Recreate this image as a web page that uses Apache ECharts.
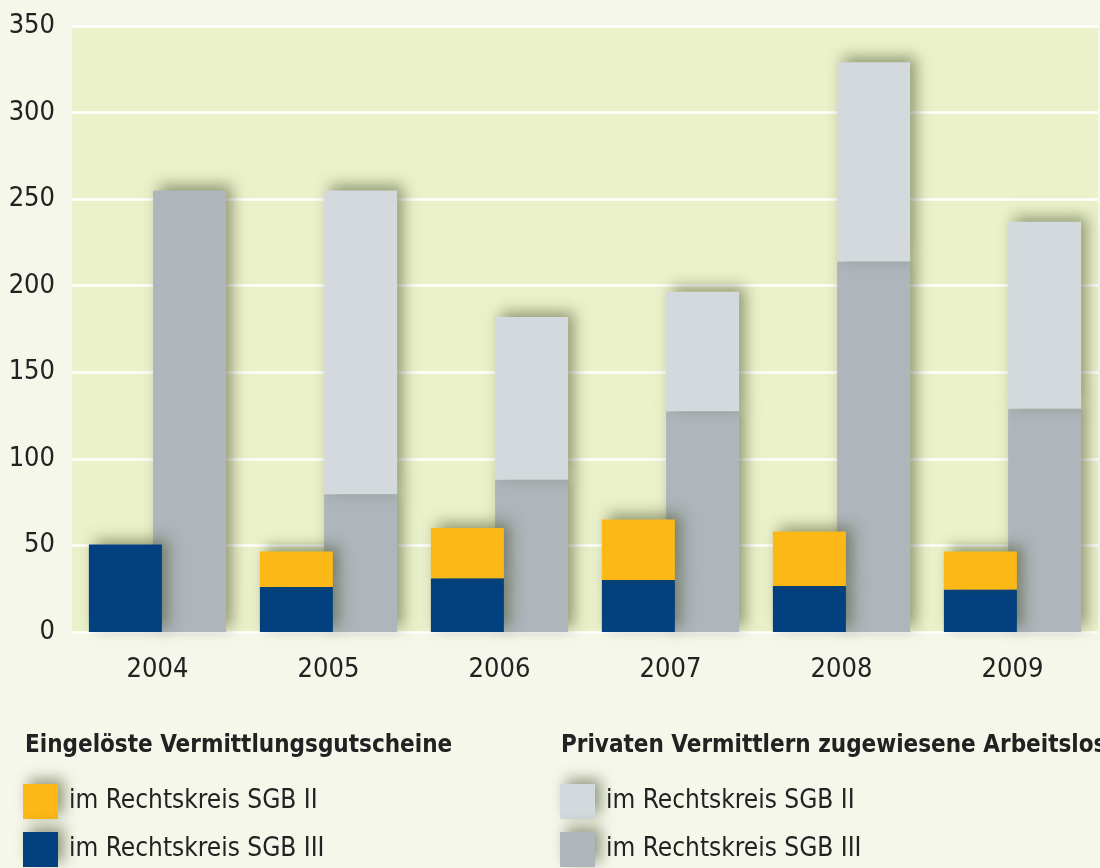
<!DOCTYPE html>
<html lang="de">
<head>
    <meta charset="UTF-8">
    <title>Vermittlungsgutscheine</title>
    <script src="https://cdn.jsdelivr.net/npm/echarts@6/dist/echarts.min.js"></script>
    <style>
        html, body { margin: 0; padding: 0; background: #f5f7ea; }
        #container { width: 1100px; height: 868px; }
    </style>
</head>
<body>
<div id="container"></div>
<script type="text/javascript">
    // Daten
    var years = ['2004', '2005', '2006', '2007', '2008', '2009'];
    var yTicks = [0, 50, 100, 150, 200, 250, 300, 350];
    // Eingelöste Vermittlungsgutscheine
    var gutscheinSGB3 = [50.5, 26, 31, 30, 26.5, 24.5];
    var gutscheinSGB2 = [0, 20.5, 29, 35, 31.5, 22];
    // Privaten Vermittlern zugewiesene Arbeitslose
    var privatSGB3 = [255, 79.5, 88, 127.5, 214, 129];
    var privatSGB2 = [0, 175.5, 94, 69, 115, 108];

    var font = '"Liberation Sans Narrow", "DejaVu Sans Condensed", "Liberation Sans", sans-serif';
    var labels = {
        g2: 'im Rechtskreis SGB II', g3: 'im Rechtskreis SGB III',
        p2: 'im Rechtskreis SGB II', p3: 'im Rechtskreis SGB III'
    };
    var shadow = { shadowBlur: 14, shadowColor: 'rgba(70,80,40,0.55)', shadowOffsetX: 6, shadowOffsetY: -5 };

    function bar(name, stack, data, color, z) {
        return {
            name: name, type: 'bar', stack: stack, data: data, z: z,
            barWidth: 73, barGap: '-12%',
            itemStyle: Object.assign({ color: color }, shadow)
        };
    }

    // vertikale Legende, ohne padding damit sie nicht umbricht
    function legendBox(names, left) {
        return {
            data: names, left: left, top: 784, bottom: 0, padding: 0, orient: 'vertical',
            itemWidth: 35, itemHeight: 35, itemGap: 13, icon: 'rect',
            formatter: function (n) { return labels[n]; },
            itemStyle: shadow,
            textStyle: { fontFamily: font, fontSize: 26, color: '#222', padding: [0, 0, 0, 6] }
        };
    }

    var myChart = echarts.init(document.getElementById('container'));
    var option = {
        backgroundColor: '#f5f7ea',
        animation: false,
        textStyle: { fontFamily: font },
        title: [
            { text: 'Eingelöste Vermittlungsgutscheine', left: 20, top: 729,
              textStyle: { fontFamily: font, fontSize: 24, fontWeight: 'bold', color: '#222' } },
            { text: 'Privaten Vermittlern zugewiesene Arbeitslose', left: 556, top: 729,
              textStyle: { fontFamily: font, fontSize: 24, fontWeight: 'bold', color: '#222' } }
        ],
        legend: [
            legendBox(['g2', 'g3'], 23),
            legendBox(['p2', 'p3'], 560)
        ],
        grid: {
            left: 72, right: 2, top: 26, bottom: 236,
            show: true, backgroundColor: '#ebf1cb', borderWidth: 0
        },
        xAxis: {
            type: 'category', data: years,
            axisLine: { show: false }, axisTick: { show: false },
            axisLabel: { fontSize: 27, color: '#222', margin: 24, fontFamily: font }
        },
        yAxis: {
            type: 'value', min: yTicks[0], max: yTicks[yTicks.length - 1], interval: 50,
            axisLine: { show: false }, axisTick: { show: false },
            axisLabel: { fontSize: 27, color: '#222', margin: 17, fontFamily: font },
            splitLine: { lineStyle: { color: '#ffffff', width: 2.5 } }
        },
        series: [
            bar('g3', 'g', gutscheinSGB3, '#02407f', 4),
            bar('g2', 'g', gutscheinSGB2, '#fbb817', 4),
            bar('p3', 'p', privatSGB3, '#aeb5bb', 2),
            bar('p2', 'p', privatSGB2, '#d4d9dd', 2)
        ]
    };
    myChart.setOption(option);
</script>
</body>
</html>
